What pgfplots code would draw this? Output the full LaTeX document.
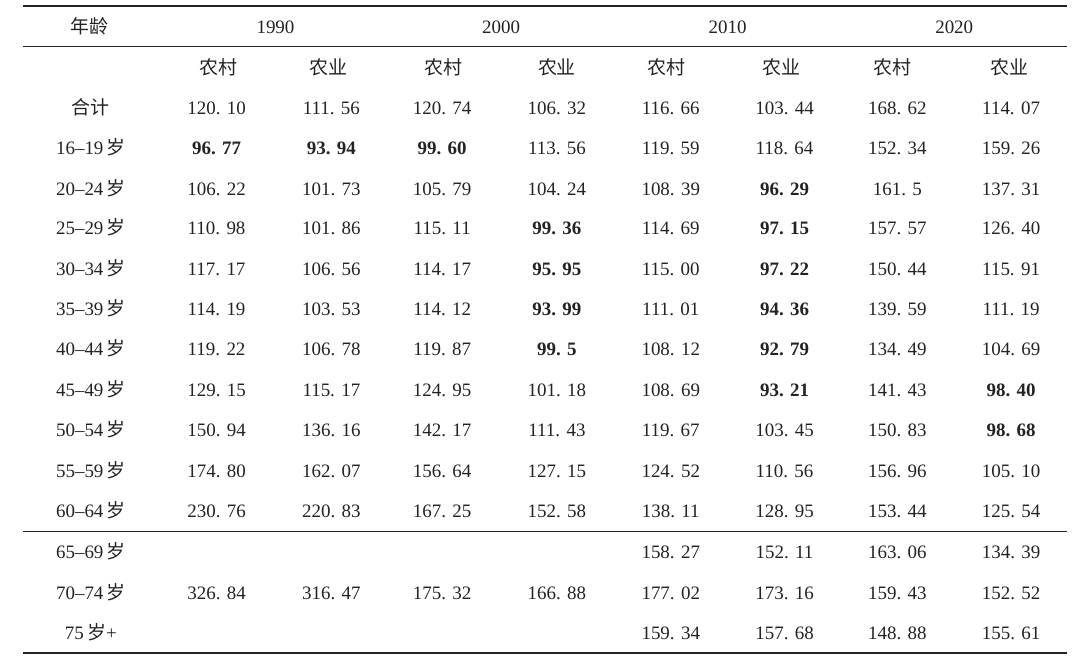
\documentclass[border=0pt]{standalone}
\usepackage{pgfplots}
\pgfplotsset{compat=1.18}
\usepackage{fontspec}
\setmainfont{Liberation Serif}
\newfontfamily\cjk{Noto Sans CJK SC}
\newcommand{\sui}{\,{\cjk 岁}}
\definecolor{txt}{RGB}{35,35,35}
\begin{document}
\fontsize{9.5}{11}\selectfont
\begin{tikzpicture}
\begin{axis}[
  width=540pt, height=332pt, scale only axis,
  xmin=0, xmax=1080, ymin=0, ymax=664, y dir=reverse,
  hide axis, clip=false,
  point meta=explicit symbolic,
  nodes near coords,
  nodes near coords align=center,
  every node near coord/.append style={anchor=base, yshift=-3.2pt, inner sep=0pt, text=txt, font=\fontsize{9.5}{11}\selectfont},
]
% bounding frame (invisible)
\addplot[draw=none, no marks, nodes near coords=] coordinates {(0,0) (1080,664)};
% rules
\addplot[txt, line width=1.3pt, no marks, nodes near coords=] coordinates {(22,6) (1068,6)};
\addplot[txt, line width=0.6pt, no marks, nodes near coords=] coordinates {(22,46.5) (1068,46.5)};
\addplot[txt, line width=0.6pt, no marks, nodes near coords=] coordinates {(22,532.5) (1068,532.5)};
\addplot[txt, line width=1.3pt, no marks, nodes near coords=] coordinates {(22,654) (1068,654)};
% header chinese
\addplot[draw=none, no marks, every node near coord/.append style={font=\fontsize{9.5}{11}\selectfont\cjk}] coordinates {
 (89,27) [年龄]
 (218,68) [农村] (328,68) [农业]
 (443,68) [农村] (557,68) [农业]
 (667,68) [农村] (782,68) [农业]
 (893,68) [农村] (1010,68) [农业]
 (90,108) [合计]
};
% years
\addplot[draw=none, no marks] coordinates {
 (275,27) [1990] (501,27) [2000] (728,27) [2010] (955,27) [2020]
};
% age labels
\addplot[draw=none, no marks] coordinates {
 (90,148.5) [16–19\sui]
 (90,189) [20–24\sui]
 (90,229) [25–29\sui]
 (90,269.5) [30–34\sui]
 (90,310) [35–39\sui]
 (90,350) [40–44\sui]
 (90,390.5) [45–49\sui]
 (90,431) [50–54\sui]
 (90,471.5) [55–59\sui]
 (90,512) [60–64\sui]
 (90,553) [65–69\sui]
 (90,594) [70–74\sui]
 (90,634.5) [75\sui+]
};
% 1990 农村
\addplot[draw=none, no marks] coordinates {
 (216,108) [120. 10]
 (216,189) [106. 22]
 (216,229) [110. 98]
 (216,269.5) [117. 17]
 (216,310) [114. 19]
 (216,350) [119. 22]
 (216,390.5) [129. 15]
 (216,431) [150. 94]
 (216,471.5) [174. 80]
 (216,512) [230. 76]
 (216,594) [326. 84]
};
% 1990 农业
\addplot[draw=none, no marks] coordinates {
 (331,108) [111. 56]
 (331,189) [101. 73]
 (331,229) [101. 86]
 (331,269.5) [106. 56]
 (331,310) [103. 53]
 (331,350) [106. 78]
 (331,390.5) [115. 17]
 (331,431) [136. 16]
 (331,471.5) [162. 07]
 (331,512) [220. 83]
 (331,594) [316. 47]
};
% 2000 农村
\addplot[draw=none, no marks] coordinates {
 (442,108) [120. 74]
 (442,189) [105. 79]
 (442,229) [115. 11]
 (442,269.5) [114. 17]
 (442,310) [114. 12]
 (442,350) [119. 87]
 (442,390.5) [124. 95]
 (442,431) [142. 17]
 (442,471.5) [156. 64]
 (442,512) [167. 25]
 (442,594) [175. 32]
};
% 2000 农业
\addplot[draw=none, no marks] coordinates {
 (557,108) [106. 32]
 (557,148.5) [113. 56]
 (557,189) [104. 24]
 (557,390.5) [101. 18]
 (557,431) [111. 43]
 (557,471.5) [127. 15]
 (557,512) [152. 58]
 (557,594) [166. 88]
};
% 2010 农村
\addplot[draw=none, no marks] coordinates {
 (671,108) [116. 66]
 (671,148.5) [119. 59]
 (671,189) [108. 39]
 (671,229) [114. 69]
 (671,269.5) [115. 00]
 (671,310) [111. 01]
 (671,350) [108. 12]
 (671,390.5) [108. 69]
 (671,431) [119. 67]
 (671,471.5) [124. 52]
 (671,512) [138. 11]
 (671,553) [158. 27]
 (671,594) [177. 02]
 (671,634.5) [159. 34]
};
% 2010 农业
\addplot[draw=none, no marks] coordinates {
 (785,108) [103. 44]
 (785,148.5) [118. 64]
 (785,431) [103. 45]
 (785,471.5) [110. 56]
 (785,512) [128. 95]
 (785,553) [152. 11]
 (785,594) [173. 16]
 (785,634.5) [157. 68]
};
% 2020 农村
\addplot[draw=none, no marks] coordinates {
 (898,108) [168. 62]
 (898,148.5) [152. 34]
 (898,189) [161. 5]
 (898,229) [157. 57]
 (898,269.5) [150. 44]
 (898,310) [139. 59]
 (898,350) [134. 49]
 (898,390.5) [141. 43]
 (898,431) [150. 83]
 (898,471.5) [156. 96]
 (898,512) [153. 44]
 (898,553) [163. 06]
 (898,594) [159. 43]
 (898,634.5) [148. 88]
};
% 2020 农业
\addplot[draw=none, no marks] coordinates {
 (1012,108) [114. 07]
 (1012,148.5) [159. 26]
 (1012,189) [137. 31]
 (1012,229) [126. 40]
 (1012,269.5) [115. 91]
 (1012,310) [111. 19]
 (1012,350) [104. 69]
 (1012,471.5) [105. 10]
 (1012,512) [125. 54]
 (1012,553) [134. 39]
 (1012,594) [152. 52]
 (1012,634.5) [155. 61]
};
% bold values
\addplot[draw=none, no marks, every node near coord/.append style={font=\fontsize{9.5}{11}\selectfont\bfseries}] coordinates {
 (216,148.5) [96. 77]
 (331,148.5) [93. 94]
 (442,148.5) [99. 60]
 (557,229) [99. 36]
 (557,269.5) [95. 95]
 (557,310) [93. 99]
 (557,350) [99. 5]
 (785,189) [96. 29]
 (785,229) [97. 15]
 (785,269.5) [97. 22]
 (785,310) [94. 36]
 (785,350) [92. 79]
 (785,390.5) [93. 21]
 (1012,390.5) [98. 40]
 (1012,431) [98. 68]
};
\end{axis}
\end{tikzpicture}
\end{document}
